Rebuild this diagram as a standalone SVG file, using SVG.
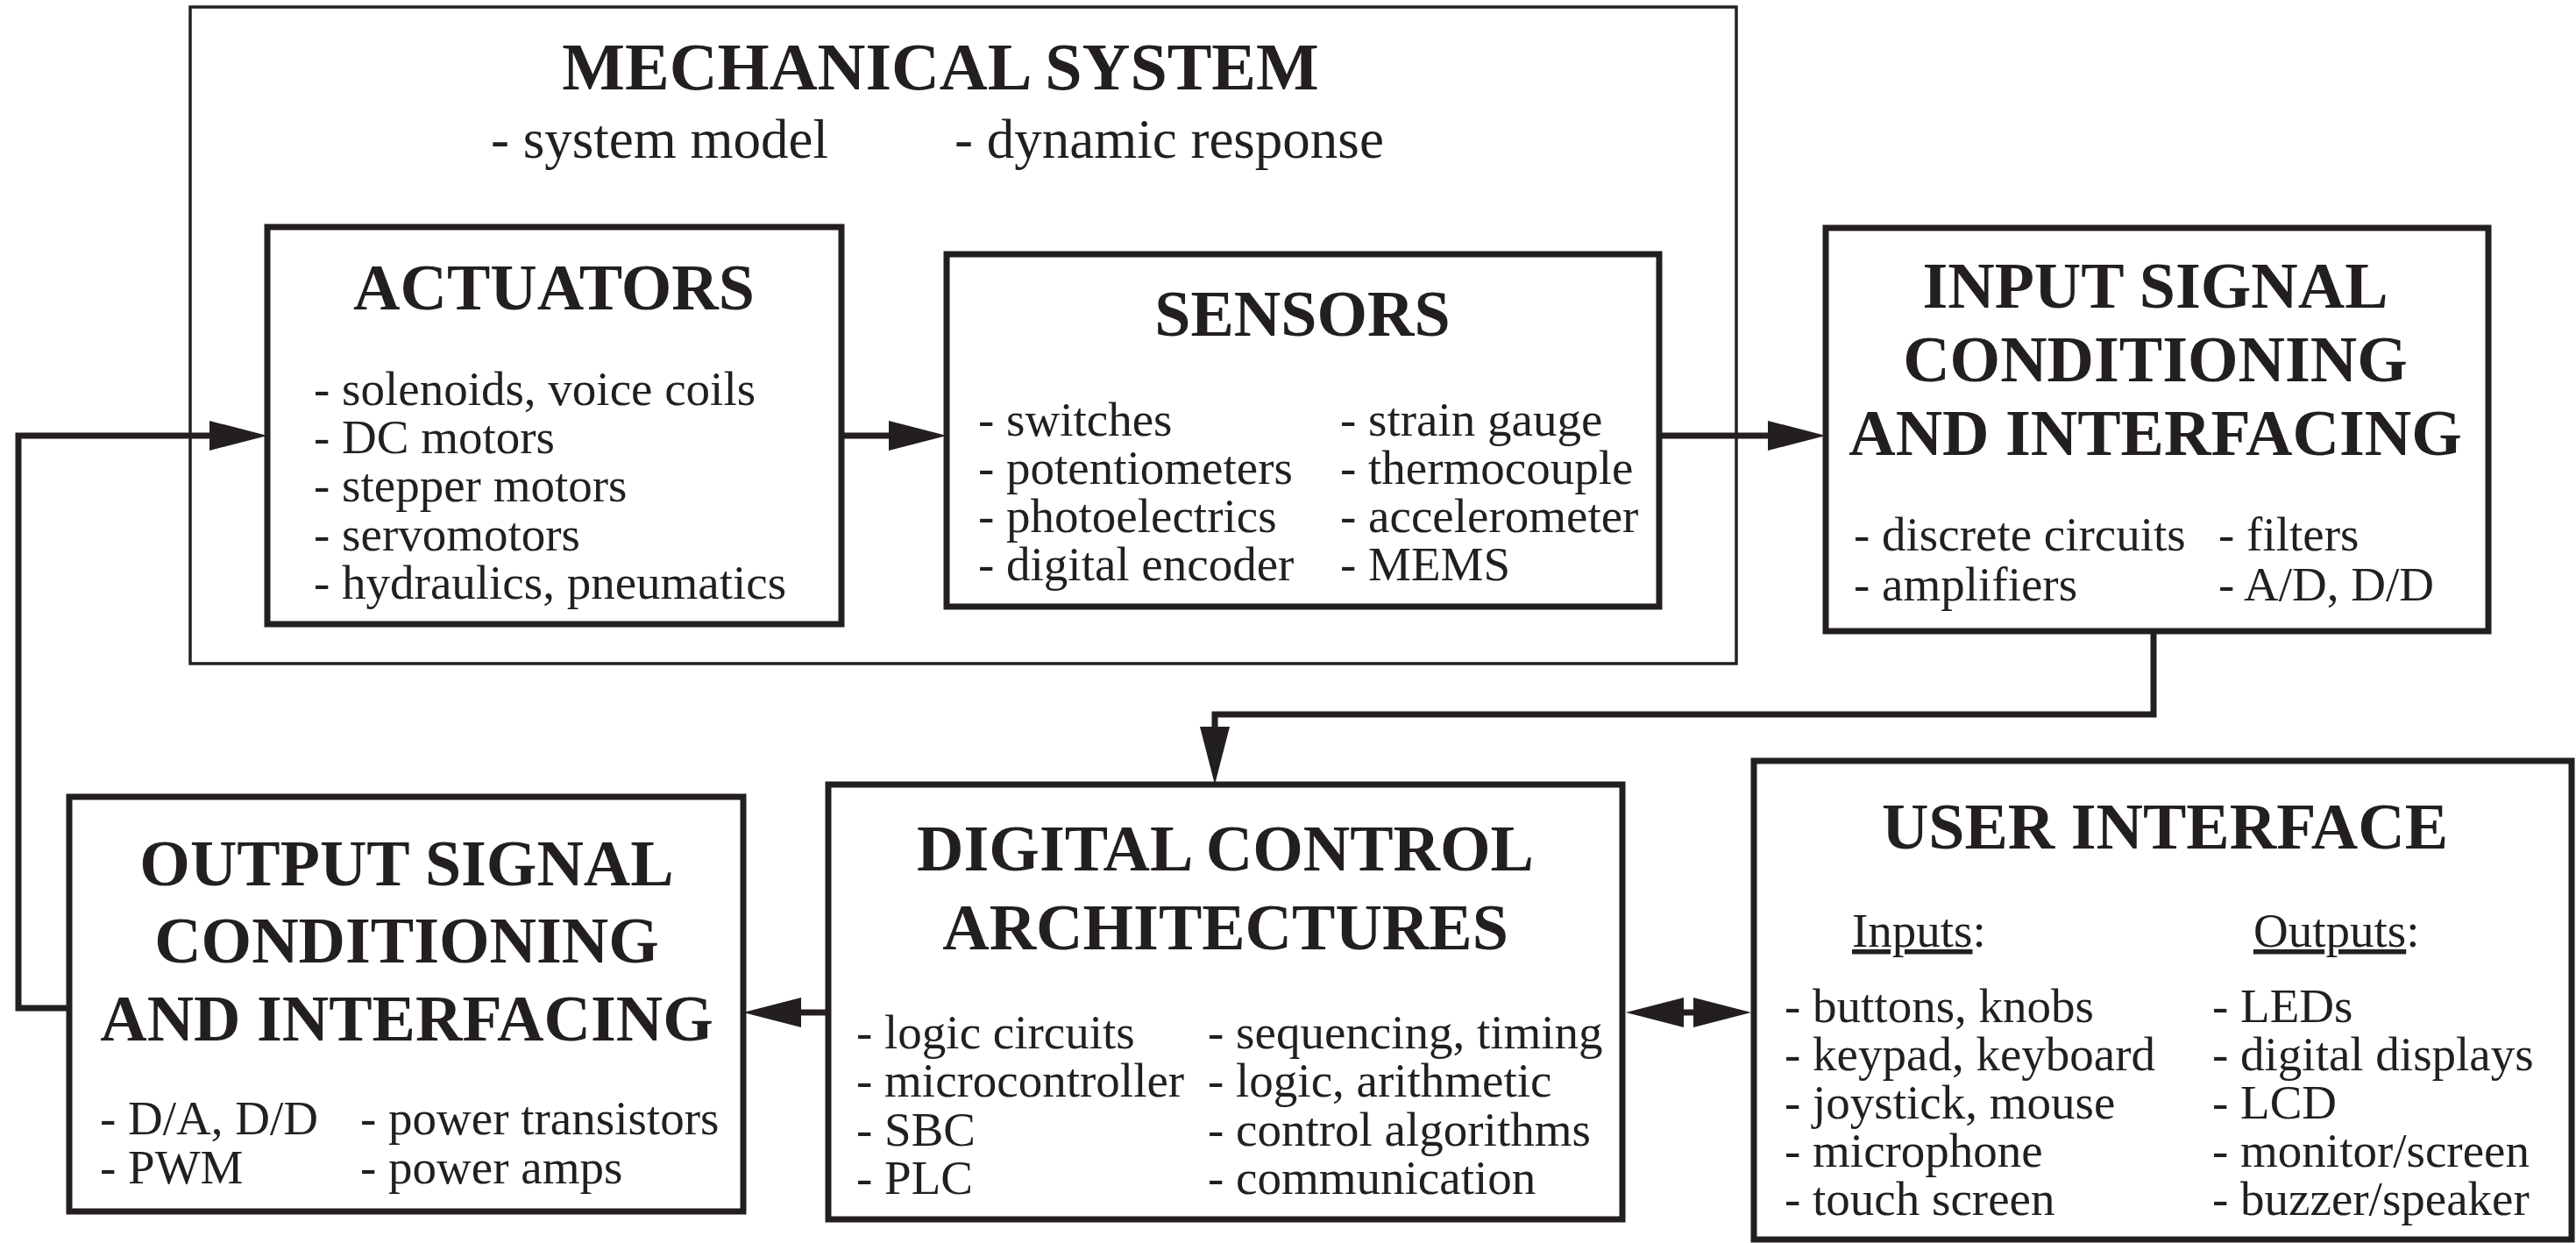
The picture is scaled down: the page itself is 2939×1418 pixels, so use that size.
<svg xmlns="http://www.w3.org/2000/svg" width="2939" height="1418" viewBox="0 0 2939 1418">
<style>
.bg{fill:#ffffff}
.box{fill:none;stroke:#231f20;stroke-width:7}
.outer{fill:none;stroke:#231f20;stroke-width:3.5}
.conn{fill:none;stroke:#231f20;stroke-width:7}
.t{font-family:"Liberation Serif","Times New Roman",serif;font-weight:bold;font-size:74px;fill:#231f20;text-anchor:middle}
.b{font-family:"Liberation Serif","Times New Roman",serif;font-size:55px;fill:#231f20}
.s{font-family:"Liberation Serif","Times New Roman",serif;font-size:63px;fill:#231f20}
.u{text-decoration:underline}
</style>
<defs>
<marker id="ah" markerUnits="userSpaceOnUse" markerWidth="66" markerHeight="34" refX="0" refY="17" orient="auto-start-reverse" viewBox="0 0 66 34">
<path d="M0,0 L66,17 L0,34 z" fill="#231f20"/>
</marker>
</defs>
<rect class="bg" x="0" y="0" width="2939" height="1418"/>

<g id="mechanical-system">
<rect class="outer" x="217" y="8" width="1764" height="749"/>
<text class="t" x="1073" y="102" style="font-size:76px">MECHANICAL SYSTEM</text>
<text class="s" x="560" y="180">- system model</text>
<text class="s" x="1089" y="180">- dynamic response</text>
</g>

<g id="actuators">
<rect class="box" x="305" y="259" width="655" height="453"/>
<text class="t" x="632" y="353">ACTUATORS</text>
<text class="b" x="358" y="462">- solenoids, voice coils</text>
<text class="b" x="358" y="517">- DC motors</text>
<text class="b" x="358" y="572">- stepper motors</text>
<text class="b" x="358" y="628">- servomotors</text>
<text class="b" x="358" y="683">- hydraulics, pneumatics</text>
</g>

<g id="sensors">
<rect class="box" x="1080" y="290" width="813" height="402"/>
<text class="t" x="1486" y="383">SENSORS</text>
<text class="b" x="1116" y="497">- switches</text>
<text class="b" x="1116" y="552">- potentiometers</text>
<text class="b" x="1116" y="607">- photoelectrics</text>
<text class="b" x="1116" y="662">- digital encoder</text>
<text class="b" x="1529" y="497">- strain gauge</text>
<text class="b" x="1529" y="552">- thermocouple</text>
<text class="b" x="1529" y="607">- accelerometer</text>
<text class="b" x="1529" y="662">- MEMS</text>
</g>

<g id="input-signal">
<rect class="box" x="2083" y="260" width="756" height="460"/>
<text class="t" x="2459" y="351">INPUT SIGNAL</text>
<text class="t" x="2459" y="435">CONDITIONING</text>
<text class="t" x="2459" y="519">AND INTERFACING</text>
<text class="b" x="2115" y="628">- discrete circuits</text>
<text class="b" x="2115" y="685">- amplifiers</text>
<text class="b" x="2531" y="628">- filters</text>
<text class="b" x="2531" y="685">- A/D, D/D</text>
</g>

<g id="output-signal">
<rect class="box" x="79" y="909" width="769" height="473"/>
<text class="t" x="464" y="1010">OUTPUT SIGNAL</text>
<text class="t" x="464" y="1098">CONDITIONING</text>
<text class="t" x="464" y="1187">AND INTERFACING</text>
<text class="b" x="114" y="1294">- D/A, D/D</text>
<text class="b" x="114" y="1350">- PWM</text>
<text class="b" x="411" y="1294">- power transistors</text>
<text class="b" x="411" y="1350">- power amps</text>
</g>

<g id="digital-control">
<rect class="box" x="945" y="895" width="906" height="496"/>
<text class="t" x="1398" y="993">DIGITAL CONTROL</text>
<text class="t" x="1398" y="1083">ARCHITECTURES</text>
<text class="b" x="977" y="1196">- logic circuits</text>
<text class="b" x="977" y="1251">- microcontroller</text>
<text class="b" x="977" y="1307">- SBC</text>
<text class="b" x="977" y="1362">- PLC</text>
<text class="b" x="1378" y="1196">- sequencing, timing</text>
<text class="b" x="1378" y="1251">- logic, arithmetic</text>
<text class="b" x="1378" y="1307">- control algorithms</text>
<text class="b" x="1378" y="1362">- communication</text>
</g>

<g id="user-interface">
<rect class="box" x="2001" y="868" width="933" height="546"/>
<text class="t" x="2470" y="968">USER INTERFACE</text>
<text class="b" x="2113" y="1080"><tspan class="u">Inputs</tspan>:</text>
<text class="b" x="2571" y="1080"><tspan class="u">Outputs</tspan>:</text>
<text class="b" x="2036" y="1166">- buttons, knobs</text>
<text class="b" x="2036" y="1221">- keypad, keyboard</text>
<text class="b" x="2036" y="1276">- joystick, mouse</text>
<text class="b" x="2036" y="1331">- microphone</text>
<text class="b" x="2036" y="1386">- touch screen</text>
<text class="b" x="2524" y="1166">- LEDs</text>
<text class="b" x="2524" y="1221">- digital displays</text>
<text class="b" x="2524" y="1276">- LCD</text>
<text class="b" x="2524" y="1331">- monitor/screen</text>
<text class="b" x="2524" y="1386">- buzzer/speaker</text>
</g>

<g id="connectors">
<path class="conn" d="M79,1150 H21 V497 H239" marker-end="url(#ah)"/>
<path class="conn" d="M960,497 H1014" marker-end="url(#ah)"/>
<path class="conn" d="M1893,497 H2017" marker-end="url(#ah)"/>
<path class="conn" d="M2457,720 V815 H1386 V829" marker-end="url(#ah)"/>
<path class="conn" d="M945,1155 H914" marker-end="url(#ah)"/>
<path class="conn" d="M1921,1155 H1932" marker-start="url(#ah)" marker-end="url(#ah)"/>
</g>
</svg>
